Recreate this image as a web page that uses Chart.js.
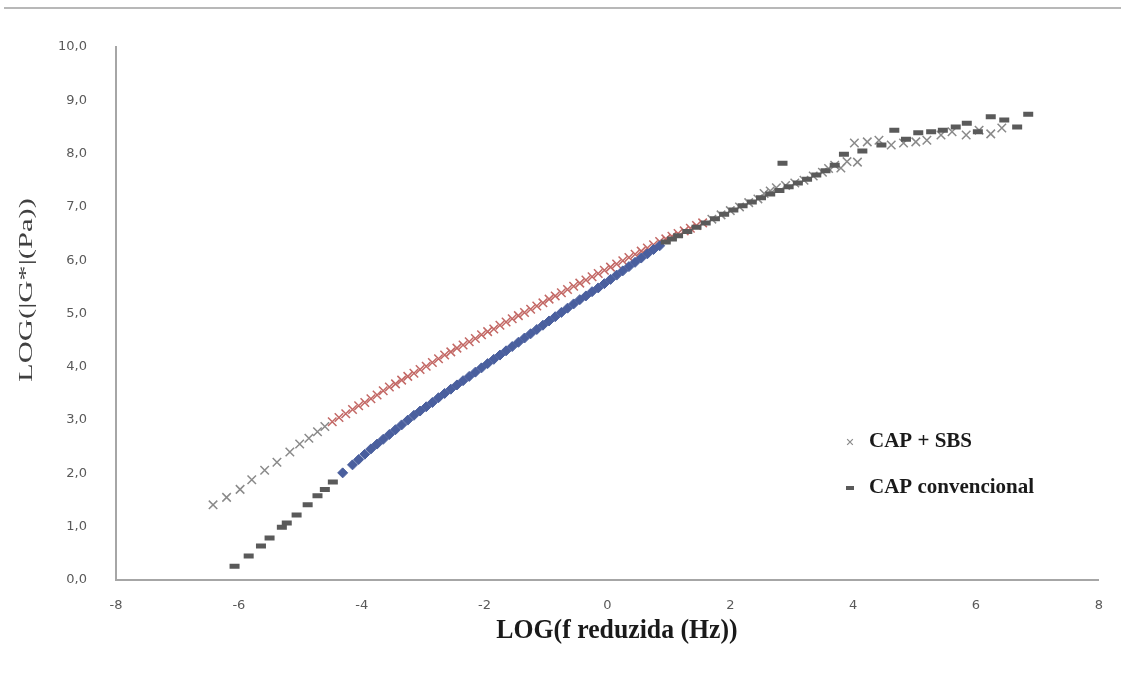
<!DOCTYPE html>
<html>
<head>
<meta charset="utf-8">
<script src="https://cdn.jsdelivr.net/npm/chart.js@4/dist/chart.umd.min.js"></script>
<style>
  body { margin: 0; background: #fff; }
  #wrap { position: relative; width: 1121px; height: 673px; }
  #topline { position: absolute; top: 7px; left: 4px; right: 0; border-top: 2px solid #b8b8b8; }
</style>
</head>
<body>
<div id="wrap">
  <div id="topline"></div>
  <canvas id="masterCurve"></canvas>
</div>
<script>
// curvas mestras - LOG|G*| x LOG(f reduzida)
const xTicks = [-8, -6, -4, -2, 0, 2, 4, 6, 8];
const yTicks = [0, 1, 2, 3, 4, 5, 6, 7, 8, 9, 10];
const seriesNames = ['CAP + SBS', 'CAP convencional'];
const xTitle = 'LOG(f reduzida (Hz))';
const yTitle = 'LOG(|G*|(Pa))';

// CAP + SBS
const sbsX = [-6.42, -6.20, -5.98, -5.79, -5.58, -5.38, -5.17, -5.01, -4.86, -4.72, -4.60, -4.48, -4.37, -4.26, -4.15, -4.05,
  -3.95, -3.85, -3.75, -3.65, -3.55, -3.45, -3.35, -3.25, -3.15, -3.05, -2.95, -2.85, -2.75, -2.65, -2.55, -2.45,
  -2.35, -2.25, -2.15, -2.05, -1.95, -1.85, -1.75, -1.65, -1.55, -1.45, -1.35, -1.25, -1.15, -1.05, -0.95, -0.85,
  -0.75, -0.65, -0.55, -0.45, -0.35, -0.25, -0.15, -0.05, 0.05, 0.15, 0.25, 0.35, 0.45, 0.55, 0.65, 0.75,
  0.85, 0.95, 1.05, 1.15, 1.25, 1.35, 1.45, 1.55, 1.70, 1.85, 2.00, 2.15, 2.30, 2.45, 2.55, 2.65,
  2.75, 2.90, 3.05, 3.20, 3.35, 3.50, 3.60, 3.70, 3.80, 3.90, 4.02, 4.07, 4.23, 4.42, 4.62, 4.82,
  5.02, 5.20, 5.43, 5.61, 5.84, 6.05, 6.24, 6.42];
const sbsY = [1.41, 1.55, 1.70, 1.88, 2.06, 2.21, 2.40, 2.55, 2.66, 2.78, 2.88, 2.97, 3.05, 3.12, 3.20, 3.27,
  3.33, 3.40, 3.47, 3.55, 3.62, 3.68, 3.75, 3.82, 3.88, 3.95, 4.01, 4.08, 4.15, 4.22, 4.28, 4.35,
  4.41, 4.47, 4.53, 4.60, 4.66, 4.71, 4.78, 4.84, 4.90, 4.96, 5.02, 5.08, 5.14, 5.20, 5.27, 5.33,
  5.39, 5.45, 5.51, 5.57, 5.63, 5.69, 5.75, 5.81, 5.87, 5.93, 5.99, 6.05, 6.11, 6.17, 6.23, 6.29,
  6.35, 6.40, 6.45, 6.50, 6.55, 6.60, 6.65, 6.70, 6.77, 6.85, 6.93, 7.00, 7.08, 7.15, 7.25, 7.30,
  7.36, 7.40, 7.45, 7.50, 7.58, 7.65, 7.72, 7.78, 7.73, 7.85, 8.20, 7.84, 8.22, 8.25, 8.16, 8.20,
  8.22, 8.25, 8.35, 8.41, 8.35, 8.44, 8.37, 8.48];

// CAP convencional
const convX = [-6.07, -5.84, -5.64, -5.50, -5.30, -5.22, -5.06, -4.88, -4.72, -4.60, -4.47, -4.31, -4.15, -4.05, -3.95, -3.85,
  -3.75, -3.65, -3.55, -3.45, -3.35, -3.25, -3.15, -3.05, -2.95, -2.85, -2.75, -2.65, -2.55, -2.45, -2.35, -2.25,
  -2.15, -2.05, -1.95, -1.85, -1.75, -1.65, -1.55, -1.45, -1.35, -1.25, -1.15, -1.05, -0.95, -0.85, -0.75, -0.65,
  -0.55, -0.45, -0.35, -0.25, -0.15, -0.05, 0.05, 0.15, 0.25, 0.35, 0.45, 0.55, 0.65, 0.75, 0.85, 0.95,
  1.05, 1.15, 1.30, 1.45, 1.60, 1.75, 1.90, 2.05, 2.20, 2.35, 2.50, 2.65, 2.80, 2.85, 2.95, 3.10,
  3.25, 3.40, 3.55, 3.70, 3.85, 4.15, 4.46, 4.67, 4.86, 5.06, 5.27, 5.46, 5.67, 5.85, 6.03, 6.24,
  6.46, 6.67, 6.85];
const convY = [0.26, 0.45, 0.64, 0.79, 0.99, 1.07, 1.22, 1.41, 1.58, 1.70, 1.84, 2.01, 2.16, 2.26, 2.36, 2.46,
  2.55, 2.64, 2.73, 2.82, 2.91, 3.00, 3.09, 3.17, 3.25, 3.33, 3.42, 3.50, 3.58, 3.66, 3.74, 3.82,
  3.90, 3.98, 4.06, 4.14, 4.22, 4.30, 4.38, 4.46, 4.54, 4.62, 4.70, 4.78, 4.86, 4.94, 5.02, 5.10,
  5.18, 5.26, 5.33, 5.41, 5.48, 5.56, 5.64, 5.72, 5.80, 5.88, 5.96, 6.04, 6.12, 6.20, 6.27, 6.34,
  6.40, 6.46, 6.54, 6.62, 6.70, 6.78, 6.86, 6.94, 7.02, 7.09, 7.17, 7.24, 7.31, 7.82, 7.38, 7.45,
  7.52, 7.60, 7.68, 7.78, 7.99, 8.05, 8.16, 8.44, 8.27, 8.39, 8.41, 8.44, 8.50, 8.57, 8.41, 8.69,
  8.63, 8.50, 8.74];

const toPoints = (xs, ys) => xs.map((x, i) => ({ x: x, y: ys[i] }));

const inRed = ctx => ctx.raw && ctx.raw.x > -4.6 && ctx.raw.x < 1.7;
const inBlue = ctx => ctx.raw && ctx.raw.x > -4.35 && ctx.raw.x < 0.9;
const sbsColor = ctx => inRed(ctx) ? 'rgba(185,78,74,0.85)' : '#8a8a8a';
const convColor = ctx => inBlue(ctx) ? '#4a5f9e' : '#5a5a5a';
const convStyle = ctx => inBlue(ctx) ? 'rectRot' : 'line';

// titulos dos eixos (texto esticado como na figura original) e legenda interna
const figureText = {
  id: 'figureText',
  afterDraw(chart) {
    const c = chart.ctx;
    c.save();
    c.textAlign = 'center';
    c.textBaseline = 'middle';

    // eixo y
    c.save();
    c.translate(27, 290);
    c.rotate(-Math.PI / 2);
    c.scale(1.7, 1);
    c.fillStyle = '#404040';
    c.font = '18px "Liberation Serif", serif';
    c.fillText(yTitle, 0, 0);
    c.restore();

    // eixo x
    c.save();
    c.translate(617, 631);
    c.scale(0.92, 1);
    c.fillStyle = '#1a1a1a';
    c.font = 'bold 28px "Liberation Serif", serif';
    c.fillText(xTitle, 0, 0);
    c.restore();

    // legenda
    const rows = [
      { y: 442, style: 'crossRot', color: '#8a8a8a', r: 4, bw: 1.2 },
      { y: 488, style: 'line', color: '#5a5a5a', r: 4, bw: 4 }
    ];
    c.textAlign = 'left';
    c.font = 'bold 21px "Liberation Serif", serif';
    rows.forEach((row, i) => {
      c.strokeStyle = row.color;
      c.fillStyle = row.color;
      c.lineWidth = row.bw;
      Chart.helpers.drawPoint(c, { pointStyle: row.style, radius: row.r, rotation: 0, borderWidth: row.bw }, 850, row.y);
      c.fillStyle = '#1a1a1a';
      c.fillText(seriesNames[i], 869, row.y);
    });
    c.restore();
  }
};

const ctx = document.getElementById('masterCurve').getContext('2d');
const masterChart = new Chart(ctx, {
  type: 'scatter',
  data: {
    datasets: [{
      label: seriesNames[1],
      data: toPoints(convX, convY),
      pointStyle: convStyle,
      pointRadius: 5,
      pointBorderWidth: ctx => inBlue(ctx) ? 1 : 5,
      pointBackgroundColor: convColor,
      pointBorderColor: convColor
    }, {
      label: seriesNames[0],
      data: toPoints(sbsX, sbsY),
      pointStyle: 'crossRot',
      pointRadius: 6,
      pointBorderWidth: 1.5,
      pointBorderColor: sbsColor,
      pointBackgroundColor: sbsColor
    }]
  },
  options: {
    responsive: true,
    maintainAspectRatio: false,
    animation: false,
    layout: { padding: { top: 47, right: 21, left: 0, bottom: 0 } },
    plugins: {
      legend: { display: false },
      tooltip: { enabled: false }
    },
    scales: {
      x: {
        type: 'linear',
        min: xTicks[0],
        max: xTicks[xTicks.length - 1],
        afterBuildTicks: axis => { axis.ticks = xTicks.map(v => ({ value: v })); },
        afterFit: axis => { axis.height = 93; },
        grid: { display: false, drawTicks: false },
        border: { display: true, color: '#a6a6a6', width: 2 },
        ticks: {
          padding: 18,
          color: '#595959',
          font: { family: '"DejaVu Sans", sans-serif', size: 13 }
        }
      },
      y: {
        min: yTicks[0],
        max: yTicks[yTicks.length - 1],
        afterBuildTicks: axis => { axis.ticks = yTicks.map(v => ({ value: v })); },
        afterFit: axis => { axis.width = 116; },
        grid: { display: false, drawTicks: false },
        border: { display: true, color: '#a6a6a6', width: 2 },
        ticks: {
          padding: 29,
          color: '#595959',
          font: { family: '"DejaVu Sans", sans-serif', size: 13 },
          callback: v => v.toFixed(1).replace('.', ',')
        }
      }
    }
  },
  plugins: [figureText]
});
</script>
</body>
</html>
